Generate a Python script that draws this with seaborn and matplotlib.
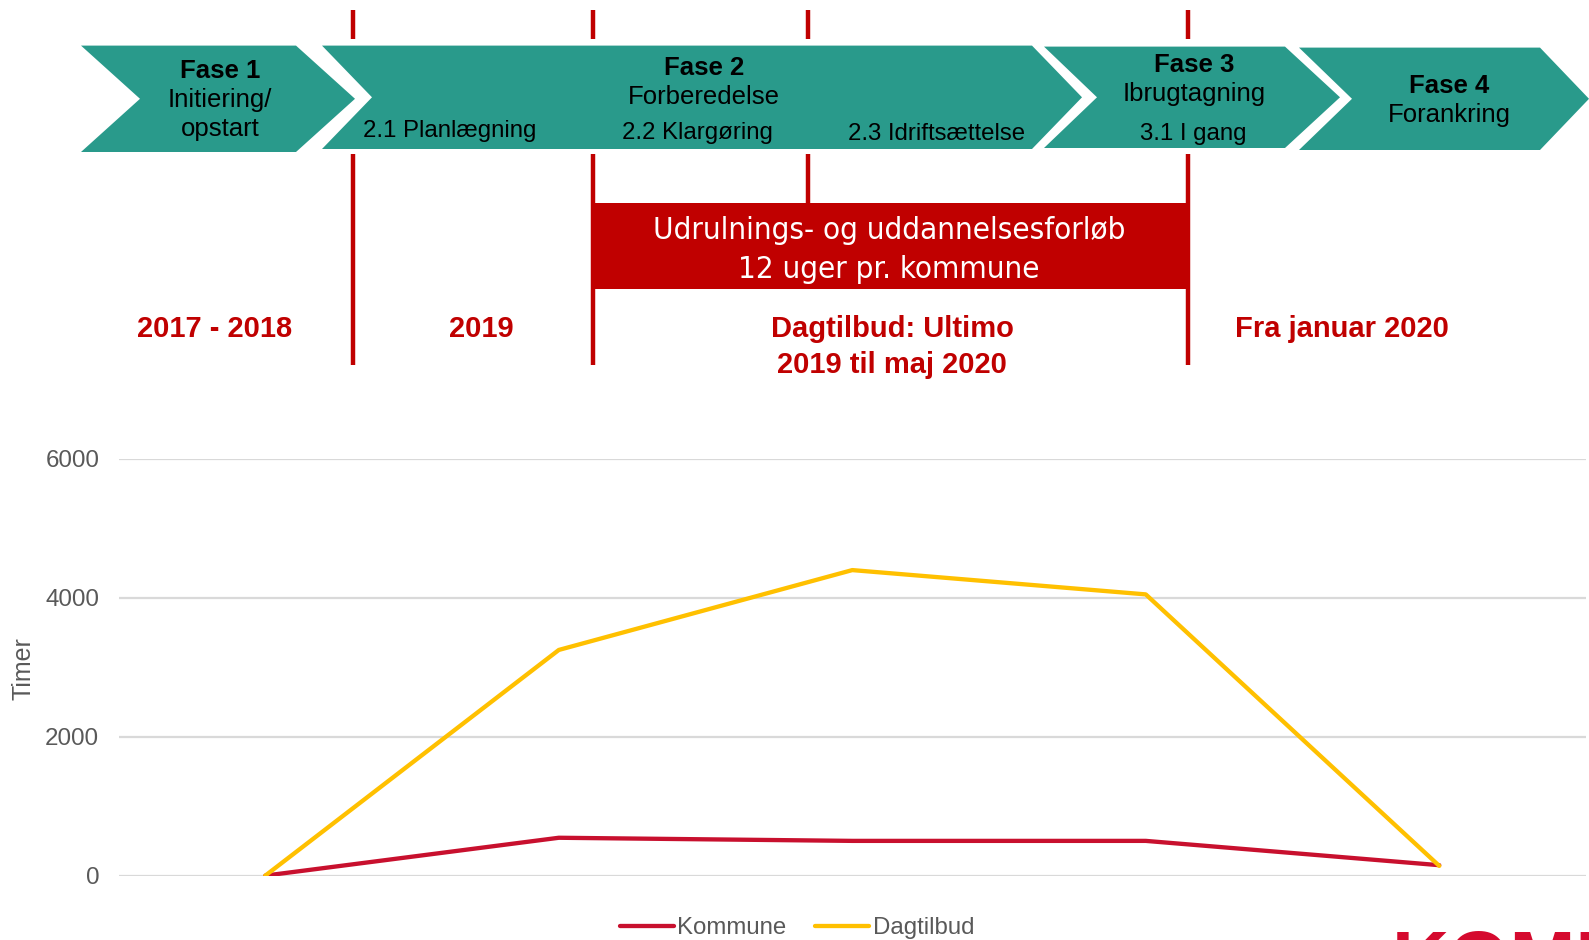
import pandas as pd
import matplotlib.pyplot as plt
from matplotlib.patches import Polygon, Rectangle
import seaborn as sns

# data
perioder = [1, 2, 3, 4, 5]
kommune = [0, 545, 500, 500, 150]
dagtilbud = [0, 3250, 4400, 4050, 140]
serier = ['Kommune', 'Dagtilbud']
farver = {'Kommune': '#C8102E', 'Dagtilbud': '#FFC000'}
y_ticks = [0, 2000, 4000, 6000]

faser = [
    ('Fase 1', ['Initiering/', 'opstart']),
    ('Fase 2', ['Forberedelse']),
    ('Fase 3', ['Ibrugtagning']),
    ('Fase 4', ['Forankring']),
]
delfaser = ['2.1 Planlægning', '2.2 Klargøring', '2.3 Idriftsættelse', '3.1 I gang']
perioder_tekst = ['2017 - 2018', '2019', 'Dagtilbud: Ultimo\n2019 til maj 2020', 'Fra januar 2020']
forloeb_tekst = 'Udrulnings- og uddannelsesforløb\n12 uger pr. kommune'

sns.set_style('white')
plt.rcParams['font.family'] = ['Liberation Sans', 'DejaVu Sans']

TEAL = '#299A8B'
RED = '#C00000'
GREY = '#595959'

W, H = 1589, 940
fig = plt.figure(figsize=(W / 100, H / 100), dpi=100)

# --- top: phase chevrons (pixel coordinates) ---
top = fig.add_axes([0, 0, 1, 1])
top.set_xlim(0, W)
top.set_ylim(H, 0)
top.axis('off')
top.patch.set_alpha(0)

chevrons = [
    # x0, x1, tip, notch, ytop, ybot
    (81, 296, 355, 140, 45.6, 152),
    (322, 1032, 1082, 372, 45.6, 149),
    (1044, 1285, 1340, 1097, 46.6, 148),
    (1299, 1540, 1589, 1352, 47.6, 150),
]
for x0, x1, tip, notch, yt, yb in chevrons:
    ym = (yt + yb) / 2
    pts = [(x0, yt), (x1, yt), (tip, ym), (x1, yb), (x0, yb), (notch, ym)]
    top.add_patch(Polygon(pts, closed=True, facecolor=TEAL, edgecolor='none', zorder=2))

fase_pos = [(220, 71), (704, 68), (1194, 65), (1449, 86)]
for (navn, linjer), (x, y) in zip(faser, fase_pos):
    top.text(x, y, navn, ha='center', va='center', fontsize=18.5, fontweight='bold',
             color='black', zorder=3)
    for i, t in enumerate(linjer):
        top.text(x, y + 29 * (i + 1), t, ha='center', va='center', fontsize=18.5,
                 color='black', zorder=3)

delfase_pos = [(450, 131), (697, 133), (937, 134), (1193, 134)]
for t, (x, y) in zip(delfaser, delfase_pos):
    top.text(x, y, t, ha='center', va='center', fontsize=17.3, color='black', zorder=3)

# red milestone lines
lw_red = 3.2
for x in [352.7, 592.8, 807.7, 1187.7]:
    top.plot([x, x], [10, 38.5], color=RED, lw=lw_red, solid_capstyle='butt')
for x in [352.7, 592.8, 1187.7]:
    top.plot([x, x], [154, 365], color=RED, lw=lw_red, solid_capstyle='butt')
top.plot([807.7, 807.7], [154, 204], color=RED, lw=lw_red, solid_capstyle='butt')

# rollout box
top.add_patch(Rectangle((591, 203), 598, 86, facecolor=RED, edgecolor='none', zorder=2))
top.text(889, 250, forloeb_tekst, ha='center', va='center', color='white',
         fontsize=22.5, linespacing=1.42, family=['DejaVu Sans'], fontstretch='condensed', zorder=3)

periode_pos = [(215, 329), (481, 329), (892, 347), (1342, 329)]
for t, (x, y) in zip(perioder_tekst, periode_pos):
    top.text(x, y, t, ha='center', va='center', color=RED, fontsize=21,
             fontweight='bold', linespacing=1.38)

# partial logo at the bottom edge
top.text(1392, 987, 'KOMBIT', ha='left', va='baseline', color='#D50A2E',
         fontsize=57, fontweight='bold')

# --- line chart ---
df = pd.DataFrame({
    'periode': perioder * 2,
    'timer': kommune + dagtilbud,
    'serie': ['Kommune'] * len(perioder) + ['Dagtilbud'] * len(perioder),
})

ax = fig.add_axes([118.6 / W, 64.4 / H, (1586 - 118.6) / W, (875.6 - 459) / H])
ax.patch.set_alpha(0)
sns.lineplot(data=df, x='periode', y='timer', hue='serie', hue_order=serier,
             palette=farver, linewidth=3.1, ax=ax, sort=False,
             solid_capstyle='round', solid_joinstyle='round')

ax.set_xlim(0.5, 5.5)
ax.set_ylim(0, 6000)
ax.set_yticks(y_ticks)
ax.set_xticks([])
ax.set_xlabel('')
ax.set_ylabel('Timer', fontsize=18, color=GREY)
ax.yaxis.set_label_coords(-0.0565, 0.496)
ax.tick_params(axis='y', length=0, pad=14, labelsize=17.4, labelcolor=GREY)
ax.yaxis.grid(True, color='#D9D9D9', lw=1.6)
ax.set_axisbelow(True)
sns.despine(ax=ax, left=True, bottom=True)

handles, labels = ax.get_legend_handles_labels()
ax.legend(handles, labels, loc='center', bbox_to_anchor=(797 / W, 12 / H),
          bbox_transform=fig.transFigure, ncol=2, frameon=False,
          fontsize=17.3, labelcolor=GREY, handlelength=2.25, handletextpad=0.15,
          columnspacing=1.2)

fig.savefig('out.png', dpi=100)
